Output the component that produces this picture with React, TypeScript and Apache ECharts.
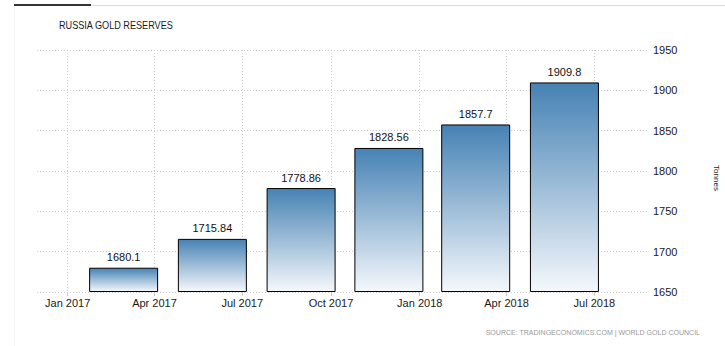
import React, { useEffect, useRef } from "react";
import * as echarts from "echarts";

// ---- data ----
const barDates = ["2017-02-28", "2017-05-31", "2017-08-31", "2017-11-30", "2018-02-28", "2018-05-31"];
const reserveValues = [1680.1, 1715.84, 1778.86, 1828.56, 1857.7, 1909.8];
const tickDates = ["2017-01-01", "2017-04-01", "2017-07-01", "2017-10-01", "2018-01-01", "2018-04-01", "2018-07-01"];
const tickLabels = ["Jan 2017", "Apr 2017", "Jul 2017", "Oct 2017", "Jan 2018", "Apr 2018", "Jul 2018"];
const yMin = 1650;
const yMax = 1950;
const yStep = 50;
const titleText = "RUSSIA GOLD RESERVES";
const sourceText = "SOURCE: TRADINGECONOMICS.COM | WORLD GOLD COUNCIL";
const unitText = "Tonnes";

const DAY = 86400000;
const toUTC = (s: string) => {
  const [y, m, d] = s.split("-").map(Number);
  return Date.UTC(y, m - 1, d);
};

const FONT = 'Arial, "Liberation Sans", sans-serif';

export default function App() {
  const ref = useRef<HTMLDivElement>(null);

  useEffect(() => {
    if (!ref.current) return;
    const chart = echarts.init(ref.current, null, { renderer: "svg" });
    const tickVals = tickDates.map(toUTC);
    const xMin = toUTC("2017-01-01") - 31.8 * DAY;
    const xMax = xMin + 632.4 * DAY;
    const labelFor = (v: number) => {
      const i = tickVals.indexOf(v);
      return i >= 0 ? tickLabels[i] : "";
    };

    chart.setOption({
      animation: false,
      backgroundColor: "#ffffff",
      grid: { left: 37, right: 78, top: 50, bottom: 54, outerBoundsMode: "none", containLabel: false },
      xAxis: {
        type: "value",
        min: xMin,
        max: xMax,
        axisLine: { show: false },
        axisTick: {
          show: true,
          customValues: tickVals,
          length: 4,
          lineStyle: { color: "#c8c8c8", width: 1 },
        },
        axisLabel: {
          customValues: tickVals,
          formatter: (v: number) => labelFor(v),
          color: "#1a1a1a",
          fontSize: 11,
          fontFamily: FONT,
          margin: 5,
        },
        splitLine: {
          show: true,
          lineStyle: { color: "#cccccc", type: [1, 2], width: 1 },
        },
      },
      yAxis: {
        type: "value",
        position: "right",
        min: yMin,
        max: yMax,
        interval: yStep,
        startValue: yMin,
        axisLine: { show: false },
        axisTick: { show: false },
        axisLabel: {
          color: "#1a1a1a",
          fontSize: 11,
          fontFamily: FONT,
          margin: 6,
          formatter: (v: number) => String(v),
        },
        splitLine: {
          show: true,
          lineStyle: { color: "#cccccc", type: [1, 2], width: 1 },
        },
      },
      series: [
        {
          type: "bar",
          clip: false,
          barWidth: 69,
          data: barDates.map((d, i) => [toUTC(d), reserveValues[i]]),
          itemStyle: {
            color: new echarts.graphic.LinearGradient(0, 0, 0, 1, [
              { offset: 0, color: "#4682b4" },
              { offset: 1, color: "#f5f8fc" },
            ]),
            borderColor: "#000000",
            borderWidth: 1,
          },
          label: {
            show: true,
            position: "top",
            distance: 5,
            color: "#111111",
            fontSize: 11,
            fontFamily: FONT,
            formatter: (p: any) => String(p.value[1]),
          },
        },
      ],
      graphic: [
        { type: "rect", shape: { x: 14, y: 4, width: 77, height: 2 }, style: { fill: "#333333" }, silent: true },
        { type: "rect", shape: { x: 91, y: 5, width: 634, height: 1 }, style: { fill: "#dddddd" }, silent: true },
        { type: "rect", shape: { x: 14, y: 6, width: 1, height: 340 }, style: { fill: "#f3f3f3" }, silent: true },
        {
          type: "text",
          x: 59,
          y: 25,
          scaleX: 0.83,
          style: { text: titleText, fill: "#1a1a1a", fontSize: 11, fontFamily: FONT, verticalAlign: "middle", align: "left" },
          silent: true,
        },
        {
          type: "text",
          x: 700,
          y: 332,
          scaleX: 0.88,
          style: { text: sourceText, fill: "#999999", fontSize: 8, fontFamily: FONT, verticalAlign: "middle", align: "right" },
          silent: true,
        },
        {
          type: "text",
          x: 716,
          y: 178,
          rotation: -Math.PI / 2,
          style: { text: unitText, fill: "#1a1a1a", fontSize: 8, fontFamily: FONT, verticalAlign: "middle", align: "center" },
          silent: true,
        },
      ],
    });
    return () => chart.dispose();
  }, []);

  return <div ref={ref} style={{ width: 725, height: 346, position: "absolute", left: 0, top: 0 }} />;
}
